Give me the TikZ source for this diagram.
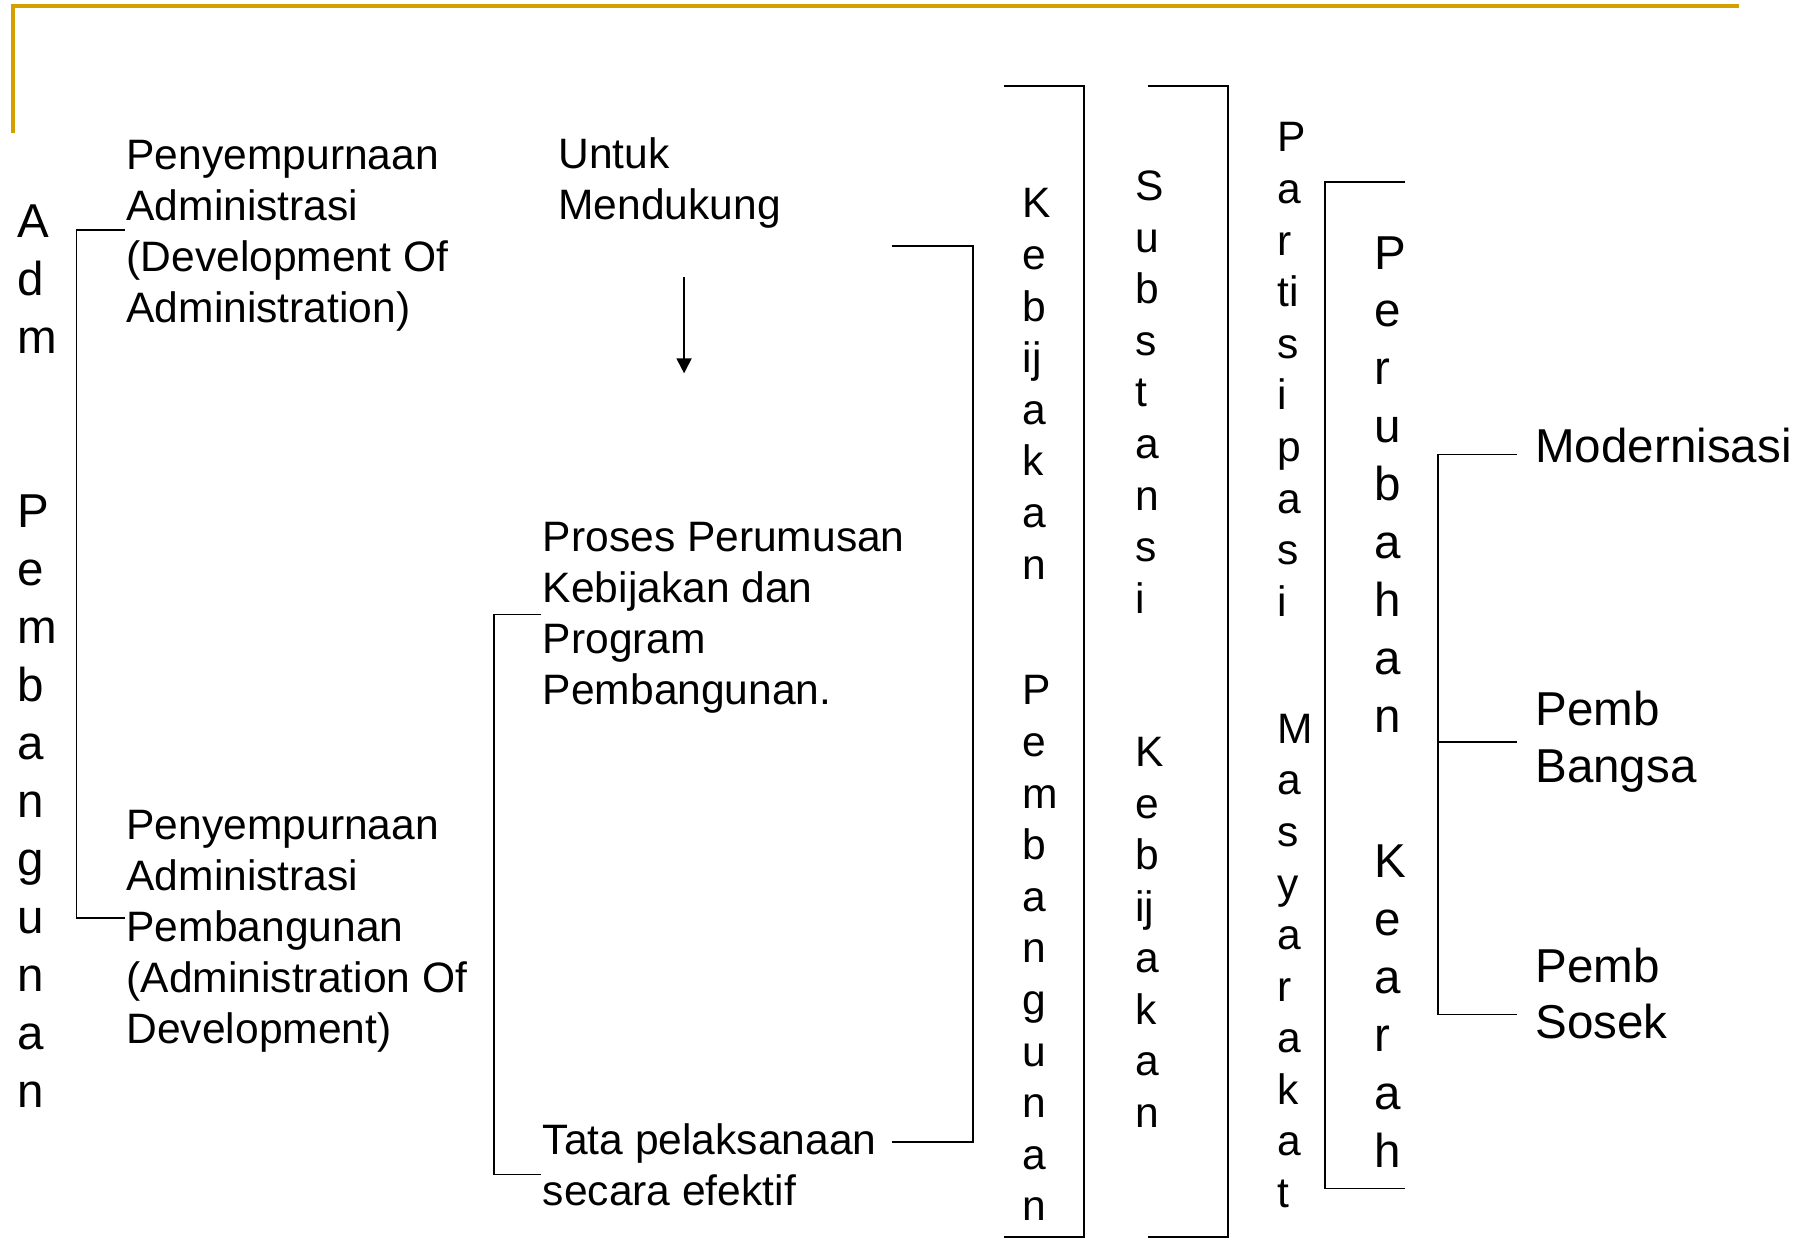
\documentclass[tikz,border=0pt]{standalone}
\usepackage{fontspec}
\setmainfont{Liberation Sans}
\usetikzlibrary{arrows.meta}
\definecolor{framegold}{RGB}{212,160,0}

\begin{document}
\begin{tikzpicture}[x=1pt, y=-1pt,
    txt/.style={font=\fontsize{36.7}{44}\selectfont, align=left, anchor=base west, inner sep=0},
    bigtxt/.style={font=\fontsize{41}{49}\selectfont, align=left, anchor=base west, inner sep=0},
    vtxt/.style={font=\fontsize{36.7}{44.5}\selectfont, align=left, anchor=base west, inner sep=0},
    bigvtxt/.style={font=\fontsize{41}{50}\selectfont, align=left, anchor=base west, inner sep=0},
    brk/.style={line width=1.6pt}]
    \useasboundingbox (0,0) rectangle (1568,1080);
    \draw [framegold, line width=3.5pt] (11,115) -- (11,5) -- (1500,5);

    % vertical words (placed at the baseline of their last line)
    \node [bigvtxt] (adm) at (14.5,305) {A\\d\\m};
    \node [bigvtxt] (pemba) at (14.5,955) {P\\e\\m\\b\\a\\n\\g\\u\\n\\a\\n};
    \node [vtxt] (kebija) at (882,499.5) {K\\e\\b\\ij\\a\\k\\a\\n};
    \node [vtxt] (pembb) at (882,1053) {P\\e\\m\\b\\a\\n\\g\\u\\n\\a\\n};
    \node [vtxt] (subst) at (979,529) {S\\u\\b\\s\\t\\a\\n\\s\\i};
    \node [vtxt] (kebijb) at (979,972.5) {K\\e\\b\\ij\\a\\k\\a\\n};
    \node [vtxt] (partis) at (1102,531.5) {P\\a\\r\\ti\\s\\i\\p\\a\\s\\i};
    \node [vtxt] (masy) at (1102,1041.5) {M\\a\\s\\y\\a\\r\\a\\k\\a\\t};
    \node [bigvtxt] (perub) at (1185,632) {P\\e\\r\\u\\b\\a\\h\\a\\n};
    \node [bigvtxt] (kearah) at (1185,1007) {K\\e\\a\\r\\a\\h};

    % text blocks
    \node [txt] (devadm) at (109,278) {Penyempurnaan\\Administrasi\\(Development Of\\Administration)};
    \node [txt] (admdev) at (109,900) {Penyempurnaan\\Administrasi\\Pembangunan\\(Administration Of\\Development)};
    \node [txt] (untuk) at (481.5,189) {Untuk\\Mendukung};
    \node [txt] (proses) at (468,608) {Proses Perumusan\\Kebijakan dan\\Program\\Pembangunan.};
    \node [txt] (tata) at (468,1040) {Tata pelaksanaan\\secara efektif};
    \node [bigtxt] (modern) at (1324,399) {Modernisasi};
    \node [bigtxt] (bangsa) at (1324,675) {Pemb\\Bangsa};
    \node [bigtxt] (sosek) at (1324,896) {Pemb\\Sosek};

    % bracket ends
    \coordinate (devadm-l) at (108,198);
    \coordinate (admdev-l) at (108,792);
    \coordinate (proses-l) at (467,530);
    \coordinate (tata-l) at (467,1013);
    \coordinate (mend-r) at (769,212);
    \coordinate (tata-r) at (769,985);
    \coordinate (kebija-t) at (866,74);
    \coordinate (kebija-b) at (866,1067);
    \coordinate (subst-t) at (990,74);
    \coordinate (subst-b) at (990,1067);
    \coordinate (perub-t) at (1212,157);
    \coordinate (perub-b) at (1212,1025);
    \coordinate (modern-l) at (1308,392);
    \coordinate (bangsa-l) at (1308,640);
    \coordinate (sosek-l) at (1308,875);
    \coordinate (arr-s) at (590,239);
    \coordinate (arr-e) at (590,322);

    \draw [brk] (devadm-l) -- ++(-42,0) |- (admdev-l);
    \draw [brk] (proses-l) -- ++(-41,0) |- (tata-l);
    \draw [brk] (mend-r) -| (839,600) |- (tata-r);
    \draw [brk] (kebija-t) -| (935,600) |- (kebija-b);
    \draw [brk] (subst-t) -| (1059,600) |- (subst-b);
    \draw [brk] (perub-t) -| (1143,600) |- (perub-b);
    \draw [brk] (modern-l) -| (1240,640) |- (sosek-l);
    \draw [brk] (1240,640) -- (bangsa-l);
    \draw [line width=1.5pt, -{Triangle[length=13pt,width=13pt]}] (arr-s) -- (arr-e);
\end{tikzpicture}
\end{document}
